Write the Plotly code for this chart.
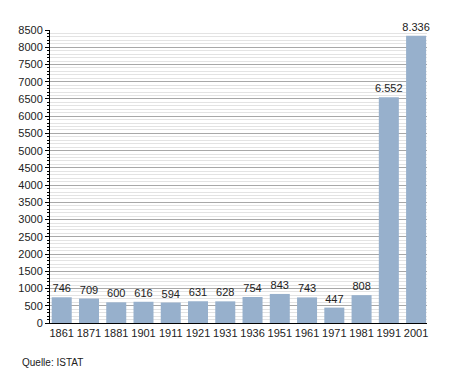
import plotly.graph_objects as go

years = ["1861", "1871", "1881", "1901", "1911", "1921", "1931", "1936", "1951", "1961", "1971", "1981", "1991", "2001"]
population = [746, 709, 600, 616, 594, 631, 628, 754, 843, 743, 447, 808, 6552, 8336]
labels = ["746", "709", "600", "616", "594", "631", "628", "754", "843", "743", "447", "808", "6.552", "8.336"]
y_ticks = list(range(0, 8501, 500))

fig = go.Figure(go.Bar(
    x=years, y=population, text=labels, textposition="outside",
    textfont=dict(size=11, color="#222"), constraintext="none",
    marker=dict(color="#97b0cc", line=dict(width=0)),
    cliponaxis=False,
))

# page body has an 8px default margin, so the figure is sized to fit the window
fig.update_layout(
    width=447, height=365,
    margin=dict(l=42, r=28, t=22, b=50, autoexpand=False),
    paper_bgcolor="white", plot_bgcolor="white",
    font=dict(family="Liberation Sans, Arial, sans-serif", size=11, color="#222"),
    bargap=0.266,
    showlegend=False,
    xaxis=dict(type="category", range=[-0.43, 13.40], showline=True, linecolor="black", linewidth=1,
               ticks="", tickfont=dict(size=11), automargin=False),
    yaxis=dict(range=[0, 8500], tickvals=y_ticks, ticktext=[str(v) for v in y_ticks],
               showline=True, linecolor="black", linewidth=1,
               ticks="outside", ticklen=4, tickcolor="black",
               gridcolor="#a8a8a8", gridwidth=1, zeroline=False,
               tickfont=dict(size=11), automargin=False,
               minor=dict(dtick=100, showgrid=True, gridcolor="#e3e3e3", gridwidth=1,
                          ticks="outside", ticklen=2, tickcolor="black")),
    annotations=[dict(text="Quelle: ISTAT", x=-30/377, y=-39/293, xref="paper", yref="paper",
                      xanchor="left", yanchor="middle",
                      showarrow=False, font=dict(size=10, color="#222"))],
)

fig.write_html("out.html")
